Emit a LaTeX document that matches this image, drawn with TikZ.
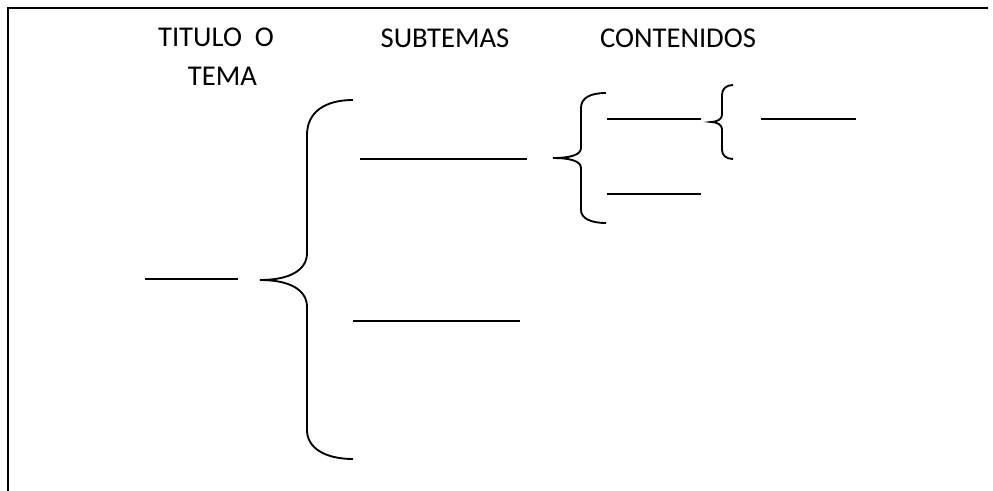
\documentclass[tikz,border=0pt]{standalone}
\usepackage{fontspec}
\setmainfont{Carlito}
\tikzset{
  titulo/.style={font=\fontsize{21.5}{29}\selectfont,inner sep=0pt},
  raya/.style={line width=1.4pt},
}
\begin{document}
\begin{tikzpicture}[x=0.75pt,y=-0.75pt,line width=1.4pt]
  \useasboundingbox (0,0) rectangle (993,491);
  % marco
  \draw (8,491) -- (8,8) -- (988,8);

  \node (tema) at (216,57) [titulo,align=center]{TITULO\ \ O\\ \ \ TEMA};
  \node (sub) at (445,38) [titulo]{SUBTEMAS};
  \node (cont) at (678,38) [titulo]{CONTENIDOS};

  % lineas
  \draw[raya] (145,279) -- (238,279);
  \draw[raya] (360,159) -- (527,159);
  \draw[raya] (353,321) -- (520,321);
  \draw[raya] (607,119) -- (701,119);
  \draw[raya] (607,194) -- (701,194);
  \draw[raya] (761,119) -- (856,119);

  % llaves
  \draw (353,100) .. controls (325,100) and (307,112) .. (307,135) -- (307,253)
    .. controls (307,270) and (290,280) .. (260,280)
    .. controls (290,280) and (307,290) .. (307,307) -- (307,430)
    .. controls (307,448) and (325,459) .. (353,459);

  \draw (606,93) .. controls (590,93) and (581,98) .. (581,108) -- (581,148)
    .. controls (581,155) and (570,158) .. (553,158)
    .. controls (570,158) and (581,161) .. (581,168) -- (581,210)
    .. controls (581,218) and (590,223) .. (606,223);

  \draw (733,85) .. controls (726,85) and (722,89) .. (722,95) -- (722,115)
    .. controls (722,119) and (717,122) .. (711,122)
    .. controls (717,122) and (722,125) .. (722,129) -- (722,150)
    .. controls (722,155) and (726,159) .. (733,159);
\end{tikzpicture}
\end{document}
